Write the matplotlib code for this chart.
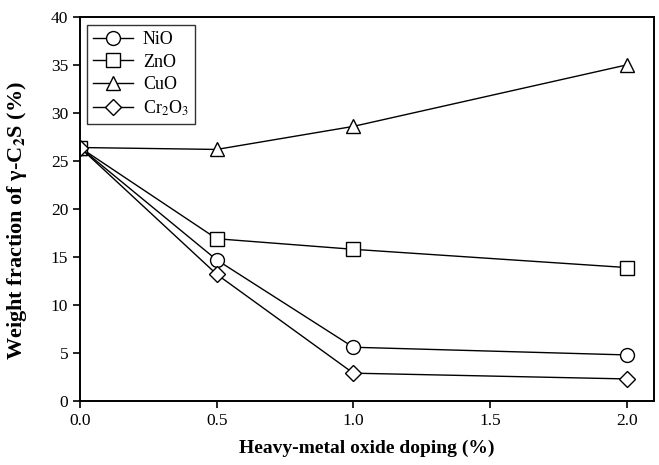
import matplotlib as mpl
from matplotlib import pyplot as plt

mpl.rcParams['font.family'] = ['Liberation Serif', 'DejaVu Serif']
mpl.rcParams['mathtext.fontset'] = 'stix'

# data
doping = [0.0, 0.5, 1.0, 2.0]
nio = [26.4, 14.7, 5.6, 4.8]
zno = [26.4, 16.9, 15.8, 13.9]
cuo = [26.4, 26.2, 28.6, 35.0]
cr2o3 = [26.4, 13.2, 2.9, 2.3]

series = [
    ('NiO', nio, 'o'),
    ('ZnO', zno, 's'),
    ('CuO', cuo, '^'),
    (r'Cr$_2$O$_3$', cr2o3, 'D'),
]

fig = plt.figure(figsize=(6.59, 4.65), dpi=100)
ax = fig.add_axes([0.1214, 0.1376, 0.871, 0.826])

for name, vals, m in series:
    ms = 8 if m == 'D' else 10
    ax.plot(doping, vals, color='black', lw=1.0, marker=m, ms=ms,
            mfc='white', mec='black', mew=1.0, label=name)

ax.set_xlim(0, 2.1)
ax.set_ylim(0, 40)
ax.set_xticks([0.0, 0.5, 1.0, 1.5, 2.0])
ax.set_xticklabels(['0.0', '0.5', '1.0', '1.5', '2.0'])
ax.set_yticks(range(0, 41, 5))
ax.tick_params(direction='out', length=5, width=1.2, labelsize=12.5)
for s in ax.spines.values():
    s.set_linewidth(1.4)

ax.set_xlabel('Heavy-metal oxide doping (%)', fontsize=14, fontweight='bold', labelpad=8)
ax.set_ylabel(r'Weight fraction of γ-C$_\mathbf{2}$S (%)', fontsize=16,
              fontweight='bold')
ax.yaxis.set_label_coords(-0.088, 0.47)

leg = ax.legend(loc='upper left', fontsize=13, frameon=True, fancybox=False,
                edgecolor='black', handlelength=2.2, handletextpad=0.55,
                borderpad=0.35, labelspacing=0.3, borderaxespad=0,
                bbox_to_anchor=(0.012, 0.979))
leg.get_frame().set_linewidth(1.0)

plt.savefig('out.png', dpi=100)
